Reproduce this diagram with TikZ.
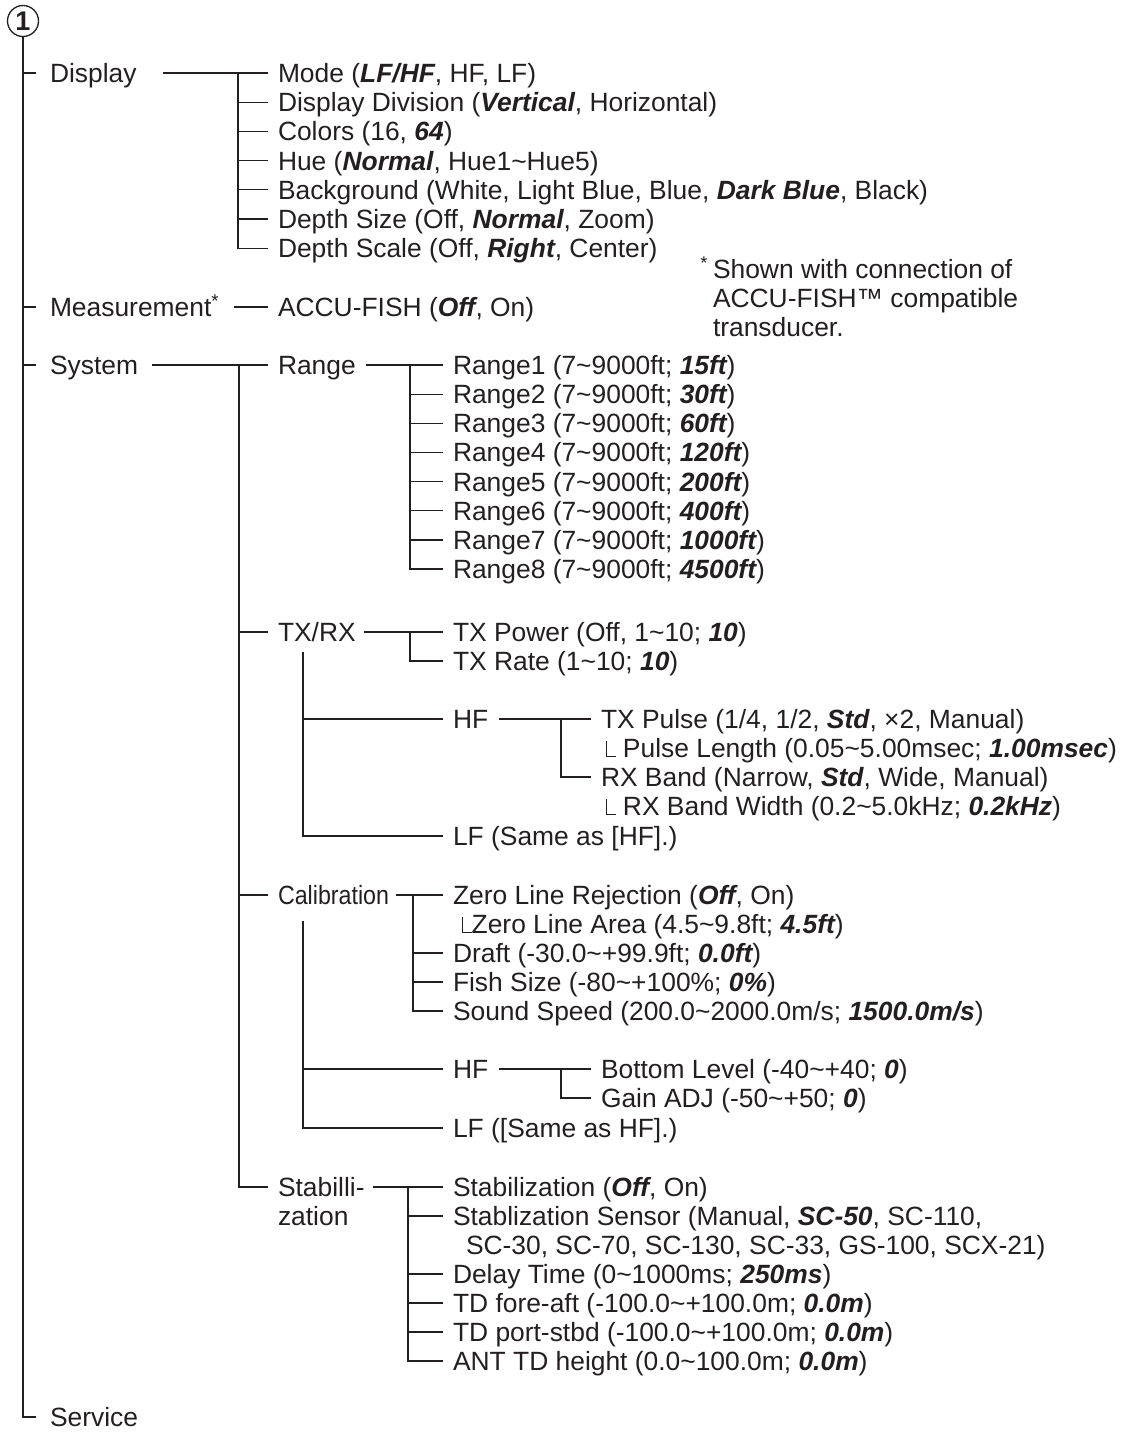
\documentclass[tikz,border=0pt]{standalone}
\usepackage{fontspec}
\setmainfont{Liberation Sans}
\usetikzlibrary{positioning}
\definecolor{ink}{RGB}{35,31,32}
\newcommand\dflt[1]{{\bfseries\itshape #1}}
\newcommand\tl{\textasciitilde}
\newcommand\lc{\rule{0.6pt}{1.2ex}\rule{0.32em}{0.6pt}}

\begin{document}
\begin{tikzpicture}[x=0.5pt, y=-0.5pt, line width=0.65pt, color=ink,
    every node/.style={font=\fontsize{13.2pt}{14.6pt}\selectfont, inner sep=0pt, text height=12pt, text depth=2.55pt},
    lvl1/.style={anchor=west, outer xsep=7pt},
    item/.style={anchor=west, outer xsep=5pt},
    note/.style={anchor=west, outer sep=0pt}]
    \useasboundingbox (0,0) rectangle (1134,1434);

    \node [circle, draw, minimum size=15.5pt, text height=9.45pt, text depth=0pt, font=\fontsize{13.5pt}{14.6pt}\selectfont\bfseries] (one) at (23,21) {1};

    % top level
    \node [lvl1] (display) at (36,73) {Display};
    \node [lvl1] (measure) at (36,307) {Measurement\textsuperscript{*}};
    \node [lvl1] (system) at (36,365) {System};
    \node [lvl1] (service) at (36,1417) {Service};

    \draw (one.south) |- (service.west);
    \foreach \n in {display,measure,system} \draw (one.south |- \n.west) -- (\n.west);

    % display
    \node [item] (mode) at (268,73) {Mode (\dflt{LF/HF}, HF, LF)};
    \node [item] (div) at (268,102.2) {Display Division (\dflt{Vertical}, Horizontal)};
    \node [item] (colors) at (268,131.4) {Colors (16, \dflt{64})};
    \node [item] (hue) at (268,160.6) {Hue (\dflt{Normal}, Hue1\tl Hue5)};
    \node [item] (bg) at (268,189.8) {Background (White, Light Blue, Blue, \dflt{Dark Blue}, Black)};
    \node [item] (dsize) at (268,219) {Depth Size (Off, \dflt{Normal}, Zoom)};
    \node [item] (dscale) at (268,248.2) {Depth Scale (Off, \dflt{Right}, Center)};
    \coordinate (dispS) at (163,73);
    \coordinate (dispJ) at (238,73);
    \draw (dispS) -- (mode.west);
    \draw (dispJ) |- (dscale.west);
    \foreach \n in {div,colors,hue,bg,dsize} \draw (dispJ |- \n.west) -- (\n.west);

    % footnote
    \node [note] (fn1) at (713,269) {\llap{\textsuperscript{*}\,}Shown with connection of};
    \node [note] (fn2) at (713,298) {ACCU-FISH™ compatible};
    \node [note] (fn3) at (713,327) {transducer.};

    % measurement
    \node [item] (accu) at (268,307) {ACCU-FISH (\dflt{Off}, On)};
    \coordinate (measS) at (234,307);
    \draw (measS) -- (accu.west);

    % system
    \node [item] (range) at (268,365) {Range};
    \node [item] (txrx) at (268,632) {TX/RX};
    \node [item] (calib) at (268,895) {\scalebox{0.88}[1]{Calibration}};
    \node [item] (stab) at (268,1187) {Stabilli-};
    \node [note] (zation) at (278,1216) {zation};
    \coordinate (sysS) at (152,365);
    \coordinate (sysJ) at (239,365);
    \draw (sysS) -- (range.west);
    \draw (sysJ) |- (stab.west);
    \foreach \n in {txrx,calib} \draw (sysJ |- \n.west) -- (\n.west);

    % range
    \foreach \i/\val in {1/15,2/30,3/60,4/120,5/200,6/400,7/1000,8/4500}
        \node [item] (range\i) at (443,{365+29.15*(\i-1)}) {Range\i\ (7\tl9000ft; \dflt{\val ft})};
    \coordinate (rangeS) at (366,365);
    \coordinate (rangeJ) at (410,365);
    \draw (rangeS) -- (range1.west);
    \draw (rangeJ) |- (range8.west);
    \foreach \i in {2,...,7} \draw (rangeJ |- range\i.west) -- (range\i.west);

    % tx/rx
    \node [item] (txpow) at (443,632) {TX Power (Off, 1\tl10; \dflt{10})};
    \node [item] (txrate) at (443,661) {TX Rate (1\tl10; \dflt{10})};
    \node [item] (hf1) at (443,719) {HF};
    \node [item] (lf1) at (443,836) {LF (Same as [HF].)};
    \coordinate (txS) at (364,632);
    \coordinate (txJ) at (410,632);
    \coordinate (txT) at (303,652);
    \draw (txS) -- (txpow.west);
    \draw (txJ) |- (txrate.west);
    \draw (txT) |- (lf1.west);
    \draw (txT |- hf1.west) -- (hf1.west);

    \node [item] (pulse) at (591,719) {TX Pulse (1/4, 1/2, \dflt{Std}, ×2, Manual)};
    \node [note] (plen) at (606,748) {\lc\ Pulse Length (0.05\tl5.00msec; \dflt{1.00msec})};
    \node [item] (rxband) at (591,777) {RX Band (Narrow, \dflt{Std}, Wide, Manual)};
    \node [note] (rxbw) at (606,806) {\lc\ RX Band Width (0.2\tl5.0kHz; \dflt{0.2kHz})};
    \coordinate (hfS) at (499,719);
    \coordinate (hfJ) at (561,719);
    \draw (hfS) -- (pulse.west);
    \draw (hfJ) |- (rxband.west);

    % calibration
    \node [item] (zlr) at (443,895) {Zero Line Rejection (\dflt{Off}, On)};
    \node [note] (zla) at (462,924) {\lc Zero Line Area (4.5\tl9.8ft; \dflt{4.5ft})};
    \node [item] (draft) at (443,953) {Draft (-30.0\tl+99.9ft; \dflt{0.0ft})};
    \node [item] (fish) at (443,982) {Fish Size (-80\tl+100\%; \dflt{0\%})};
    \node [item] (sound) at (443,1011) {Sound Speed (200.0\tl2000.0m/s; \dflt{1500.0m/s})};
    \node [item] (hf2) at (443,1069) {HF};
    \node [item] (lf2) at (443,1128) {LF ([Same as HF].)};
    \coordinate (calS) at (396,895);
    \coordinate (calJ) at (413,895);
    \coordinate (calT) at (303,921);
    \draw (calS) -- (zlr.west);
    \draw (calJ) |- (sound.west);
    \foreach \n in {draft,fish} \draw (calJ |- \n.west) -- (\n.west);
    \draw (calT) |- (lf2.west);
    \draw (calT |- hf2.west) -- (hf2.west);

    \node [item] (bottom) at (591,1069) {Bottom Level (-40\tl+40; \dflt{0})};
    \node [item] (gain) at (591,1098) {Gain ADJ (-50\tl+50; \dflt{0})};
    \coordinate (hf2S) at (499,1069);
    \coordinate (hf2J) at (561,1069);
    \draw (hf2S) -- (bottom.west);
    \draw (hf2J) |- (gain.west);

    % stabilization
    \node [item] (stabon) at (443,1187) {Stabilization (\dflt{Off}, On)};
    \node [item] (sensor) at (443,1216) {Stablization Sensor (Manual, \dflt{SC-50}, SC-110,};
    \node [note] (sensor2) at (466,1245) {SC-30, SC-70, SC-130, SC-33, GS-100, SCX-21)};
    \node [item] (delay) at (443,1274) {Delay Time (0\tl1000ms; \dflt{250ms})};
    \node [item] (fore) at (443,1303) {TD fore-aft (-100.0\tl+100.0m; \dflt{0.0m})};
    \node [item] (port) at (443,1332) {TD port-stbd (-100.0\tl+100.0m; \dflt{0.0m})};
    \node [item] (ant) at (443,1361) {ANT TD height (0.0\tl100.0m; \dflt{0.0m})};
    \coordinate (stabS) at (373,1187);
    \coordinate (stabJ) at (408,1187);
    \draw (stabS) -- (stabon.west);
    \draw (stabJ) |- (ant.west);
    \foreach \n in {sensor,delay,fore,port} \draw (stabJ |- \n.west) -- (\n.west);
\end{tikzpicture}
\end{document}
